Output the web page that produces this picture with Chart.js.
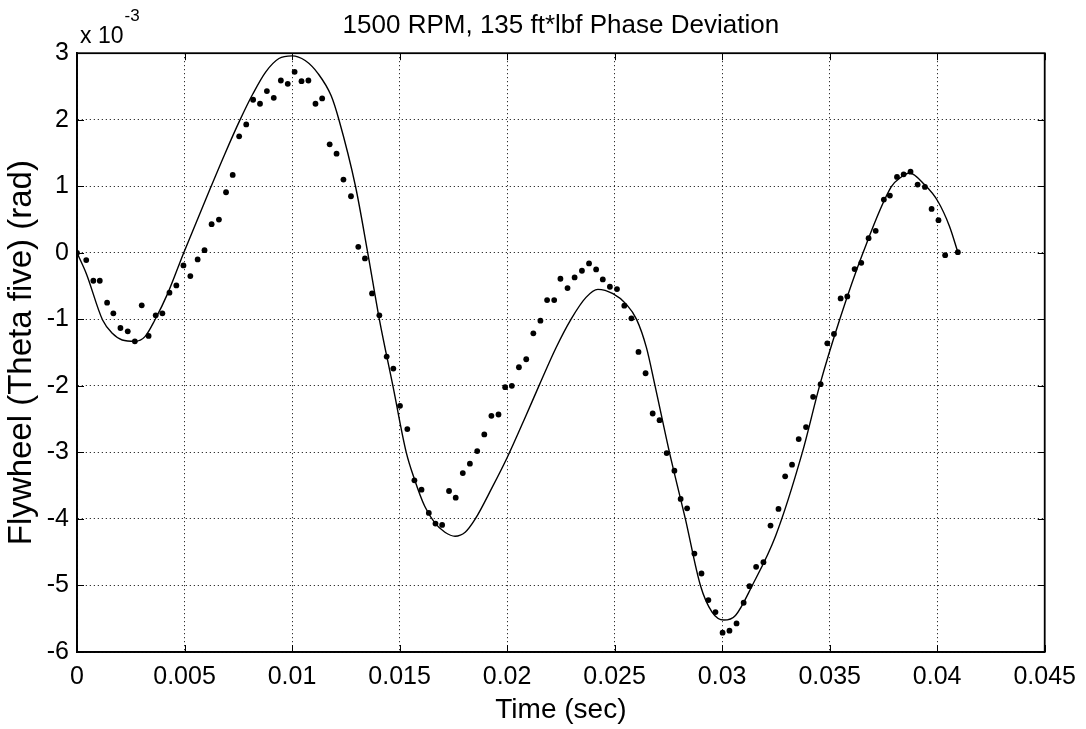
<!DOCTYPE html>
<html>
<head>
<meta charset="utf-8">
<title>Flywheel phase deviation</title>
<script src="https://cdn.jsdelivr.net/npm/chart.js@4.4.1/dist/chart.umd.min.js"></script>
<style>
  html, body { margin: 0; padding: 0; background: #fff; }
  canvas { display: block; }
</style>
</head>
<body>
<canvas id="phaseChart" width="1086" height="729"></canvas>
<script>
// measured samples, values in units of 1e-3 rad
const dotTimes = [
  0, 0.00043, 0.00076, 0.00106, 0.0014, 0.00169, 0.00202, 0.00236, 0.00269, 0.00301,
  0.00333, 0.00366, 0.00397, 0.0043, 0.00462, 0.00495, 0.00527, 0.00561, 0.00593, 0.00626,
  0.0066, 0.00693, 0.00724, 0.00754, 0.00787, 0.00819, 0.00851, 0.00883, 0.00915, 0.00948,
  0.0098, 0.01012, 0.01044, 0.01076, 0.01109, 0.0114, 0.01175, 0.01207, 0.01239, 0.01274,
  0.01308, 0.01339, 0.01372, 0.01406, 0.0144, 0.01471, 0.01502, 0.01536, 0.01569, 0.01602,
  0.01636, 0.01667, 0.01698, 0.0173, 0.01761, 0.01794, 0.01827, 0.01861, 0.01894, 0.01927,
  0.0196, 0.01991, 0.02022, 0.02055, 0.02089, 0.02122, 0.02155, 0.02186, 0.02219, 0.02248,
  0.02281, 0.02314, 0.02348, 0.02381, 0.02414, 0.02445, 0.02478, 0.02511, 0.02545, 0.02578,
  0.02611, 0.02644, 0.02677, 0.02709, 0.02742, 0.02778, 0.02807, 0.02837, 0.02871, 0.02904,
  0.02936, 0.02969, 0.03002, 0.03034, 0.03067, 0.031, 0.03127, 0.03158, 0.03192, 0.03225,
  0.03262, 0.03293, 0.03325, 0.03356, 0.0339, 0.03423, 0.03458, 0.03489, 0.0352, 0.03551,
  0.03582, 0.03616, 0.03647, 0.03681, 0.03714, 0.03752, 0.0378, 0.03813, 0.03844, 0.03876,
  0.03909, 0.03943, 0.03974, 0.04006, 0.04037, 0.04096
];
const dotValues = [
  0, -0.11, -0.42, -0.42, -0.75, -0.91, -1.13, -1.18, -1.33, -0.79,
  -1.25, -0.94, -0.91, -0.6, -0.49, -0.19, -0.35, -0.1, 0.04, 0.43,
  0.5, 0.91, 1.17, 1.75, 1.93, 2.3, 2.24, 2.43, 2.33, 2.59,
  2.54, 2.72, 2.58, 2.59, 2.24, 2.32, 1.63, 1.49, 1.1, 0.85,
  0.09, -0.085, -0.61, -0.94, -1.56, -1.74, -2.3, -2.65, -3.42, -3.56,
  -3.91, -4.07, -4.09, -3.58, -3.68, -3.31, -3.17, -2.98, -2.73, -2.45,
  -2.43, -2.02, -2.0, -1.72, -1.6, -1.21, -1.02, -0.71, -0.71, -0.39,
  -0.53, -0.37, -0.27, -0.16, -0.25, -0.4, -0.51, -0.545, -0.795, -0.985,
  -1.49, -1.81, -2.415, -2.515, -3.01, -3.275, -3.7, -3.84, -4.52, -4.82,
  -5.22, -5.4, -5.71, -5.68, -5.57, -5.26, -5.01, -4.72, -4.65, -4.1,
  -3.85, -3.36, -3.185, -2.8, -2.62, -2.165, -1.975, -1.36, -1.22, -0.685,
  -0.655, -0.245, -0.15, 0.22, 0.33, 0.8, 0.86, 1.14, 1.18, 1.22,
  1.025, 0.99, 0.66, 0.49, -0.035, 0.01
];

// fitted model curve
const fitTimes = [
  0, 0.00043, 0.00119, 0.00164, 0.0021, 0.0027, 0.00316, 0.00362, 0.00422, 0.00495,
  0.0062, 0.00688, 0.00757, 0.00818, 0.00878, 0.00939, 0.01, 0.01061, 0.01122,
  0.01182, 0.01218, 0.01295, 0.01352, 0.01406, 0.01469, 0.01531, 0.0157, 0.01617, 0.01664,
  0.01711, 0.01758, 0.01805, 0.01852, 0.0193, 0.02, 0.02086, 0.02148, 0.02227, 0.02297,
  0.02367, 0.02422, 0.02492, 0.02555, 0.02602, 0.02648, 0.02688, 0.02755, 0.02829, 0.02899,
  0.02953, 0.03008, 0.03062, 0.0314, 0.03248, 0.03373, 0.03453, 0.03547, 0.03655, 0.03786,
  0.03833, 0.03871, 0.03941, 0.04003, 0.04057, 0.04096
];
const fitValues = [
  0, -0.31, -1.01, -1.21, -1.31, -1.33, -1.26, -1.01, -0.61, -0.01,
  0.97, 1.49, 1.99, 2.39, 2.72, 2.92, 2.96, 2.89, 2.69,
  2.36, 2.0, 1.0, 0.0, -1.0, -2.0, -3.0, -3.41, -3.81, -4.06,
  -4.2, -4.26, -4.2, -4.0, -3.53, -3.08, -2.46, -2.0, -1.43, -1.0,
  -0.67, -0.55, -0.615, -0.775, -1.0, -1.425, -2.0, -3.0, -4.0, -5.0,
  -5.4, -5.52, -5.45, -5.0, -4.26, -3.0, -2.0, -1.0, 0.0, 0.99,
  1.14, 1.2, 1.025, 0.775, 0.4, 0.01
];

const xTicks = [0, 0.005, 0.01, 0.015, 0.02, 0.025, 0.03, 0.035, 0.04, 0.045];
const xTickLabels = ["0", "0.005", "0.01", "0.015", "0.02", "0.025", "0.03", "0.035", "0.04", "0.045"];
const yTicks = [-6, -5, -4, -3, -2, -1, 0, 1, 2, 3];

const fontFamily = "'Liberation Sans', Arial, sans-serif";
Chart.defaults.font.family = fontFamily;
Chart.defaults.color = "#000";

// box, inward tick marks and the x10^-3 exponent like matlab draws them
const framePlugin = {
  id: "frame",
  afterDraw(chart) {
    const { ctx, chartArea: a, scales } = chart;
    ctx.save();
    ctx.strokeStyle = "#000";
    ctx.lineWidth = 1;
    ctx.beginPath();
    xTicks.forEach((v) => {
      const px = Math.round(scales.x.getPixelForValue(v)) + 0.5;
      ctx.moveTo(px, a.bottom); ctx.lineTo(px, a.bottom - 7);
      ctx.moveTo(px, a.top); ctx.lineTo(px, a.top + 7);
    });
    yTicks.forEach((v) => {
      const py = Math.round(scales.y.getPixelForValue(v)) + 0.5;
      ctx.moveTo(a.left, py); ctx.lineTo(a.left + 7, py);
      ctx.moveTo(a.right, py); ctx.lineTo(a.right - 7, py);
    });
    ctx.stroke();
    ctx.lineWidth = 1.8;
    ctx.strokeRect(a.left, a.top, a.right - a.left, a.bottom - a.top);

    ctx.fillStyle = "#000";
    ctx.textBaseline = "alphabetic";
    ctx.textAlign = "left";
    ctx.font = "23px " + fontFamily;
    ctx.fillText("x 10", a.left + 3, a.top - 10);
    const w = ctx.measureText("x 10").width;
    ctx.font = "17px " + fontFamily;
    ctx.fillText("-3", a.left + 4 + w, a.top - 32);
    ctx.restore();
  }
};

const ctx = document.getElementById("phaseChart").getContext("2d");
const phaseChart = new Chart(ctx, {
  type: "scatter",
  data: {
    datasets: [
      {
        label: "Model",
        type: "line",
        data: fitTimes.map((t, i) => ({ x: t, y: fitValues[i] })),
        borderColor: "#000",
        borderWidth: 1.4,
        pointRadius: 0,
        fill: false,
        cubicInterpolationMode: "monotone",
      },
      {
        label: "Measured",
        data: dotTimes.map((t, i) => ({ x: t, y: dotValues[i] })),
        backgroundColor: "#000",
        borderColor: "#000",
        borderWidth: 0,
        pointRadius: 2.9,
      },
    ],
  },
  options: {
    responsive: false,
    animation: false,
    devicePixelRatio: 1,
    layout: { padding: { left: 0, right: 40, top: 0, bottom: 0 } },
    plugins: {
      legend: { display: false },
      tooltip: { enabled: false },
      title: {
        display: true,
        fullSize: false,
        text: "1500 RPM, 135 ft*lbf Phase Deviation",
        color: "#000",
        font: { size: 26, weight: "normal" },
        padding: { top: 10, bottom: 12 },
      },
    },
    scales: {
      x: {
        type: "linear",
        min: 0,
        max: 0.045,
        afterBuildTicks: (s) => { s.ticks = xTicks.map((v) => ({ value: v })); },
        afterFit: (s) => { s.height = 77; },
        ticks: {
          callback: (v, i) => xTickLabels[i],
          font: { size: 25 },
          color: "#000",
          padding: 10,
          maxRotation: 0,
          autoSkip: false,
        },
        grid: { color: "#000", lineWidth: 1, drawTicks: false },
        border: { display: true, color: "#000", width: 1.8, dash: [1, 3] },
        title: {
          display: true,
          text: "Time (sec)",
          color: "#000",
          font: { size: 28 },
          padding: { top: 0, bottom: 2 },
        },
      },
      y: {
        type: "linear",
        min: -6,
        max: 3,
        afterBuildTicks: (s) => { s.ticks = yTicks.map((v) => ({ value: v })); },
        afterFit: (s) => { s.width = 77; },
        ticks: {
          font: { size: 25 },
          color: "#000",
          padding: 8,
        },
        grid: { color: "#000", lineWidth: 1, drawTicks: false },
        border: { display: true, color: "#000", width: 1.8, dash: [1, 3] },
        title: {
          display: true,
          text: "Flywheel (Theta five) (rad)",
          color: "#000",
          font: { size: 33 },
          padding: { top: 2, bottom: 0 },
        },
      },
    },
  },
  plugins: [framePlugin],
});
</script>
</body>
</html>
